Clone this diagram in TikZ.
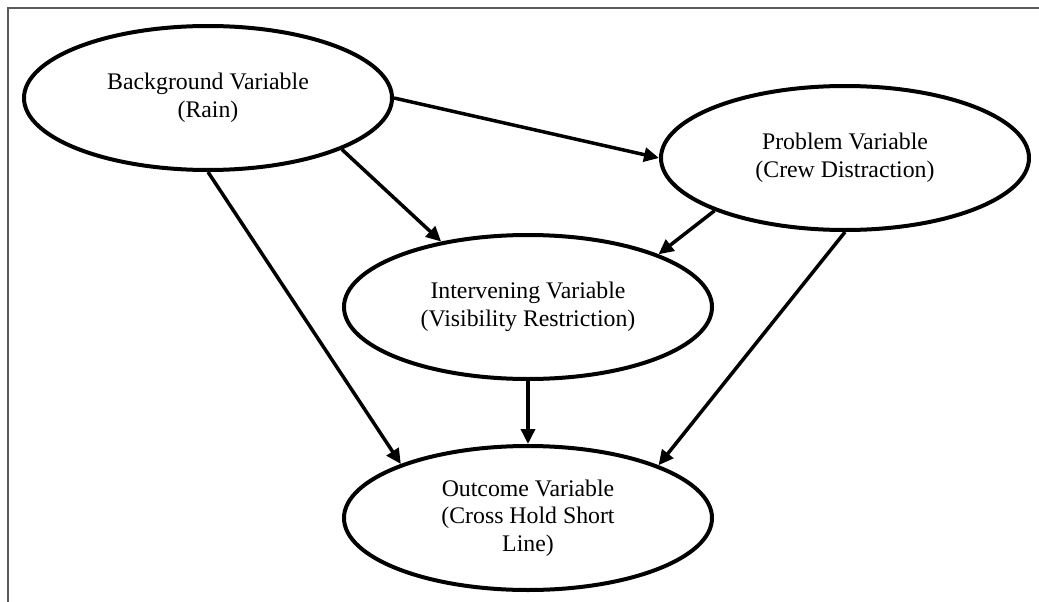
\documentclass[tikz,border=0pt]{standalone}
\usepackage{fontspec}
\setmainfont{Liberation Serif}
\usetikzlibrary{shapes.geometric,arrows.meta}

\tikzset{
  var/.style={ellipse, draw=black, line width=4pt, fill=white,
    minimum width=368pt, minimum height=144pt, inner sep=0pt,
    align=center, font=\fontsize{23.8}{27.5}\selectfont},
  link/.style={line width=3.5pt, draw=black,
    -{Triangle[length=15pt,width=14pt]}},
  frame/.style={line width=1.5pt, draw={rgb,255:red,90;green,90;blue,90}}
}

\begin{document}
\begin{tikzpicture}[x=1pt, y=-1pt]
  \useasboundingbox (0,0) rectangle (1039,602);

  % page frame: top and left rules only
  \draw[frame] (8,602) -- (8,8) -- (1039,8);

  % variables
  \node[var] (bg) at (208,98)  {Background Variable\\(Rain)};
  \node[var] (pr) at (845,158) {Problem Variable\\(Crew Distraction)};
  \node[var] (iv) at (528,307) {Intervening Variable\\(Visibility Restriction)};
  \node[var] (oc) at (528,518) {Outcome Variable\\(Cross Hold Short\\Line)};

  % causal links
  \draw[link] (bg.east)  -- (pr.west);
  \draw[link] (bg.-21)   -- (iv.143);
  \draw[link] (bg.south) -- (oc.157.5);
  \draw[link] (pr.-158)  -- (iv.22);
  \draw[link] (pr.south) -- (oc.22.6);
  \draw[link] (iv.south) -- (oc.north);
\end{tikzpicture}
\end{document}
